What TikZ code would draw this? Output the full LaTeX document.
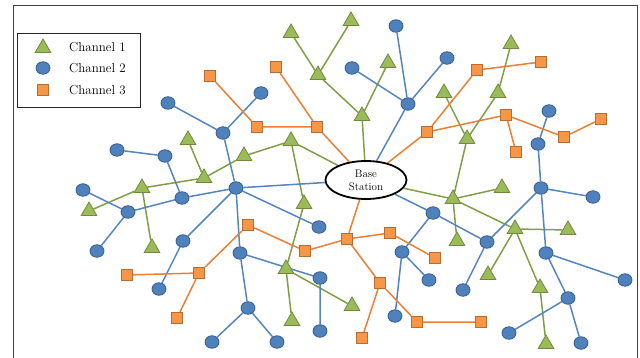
\documentclass[tikz,border=0pt]{standalone}
\usetikzlibrary{shapes.geometric,backgrounds}
\definecolor{grfill}{HTML}{9BBB59}
\definecolor{grdraw}{HTML}{71893F}
\definecolor{grline}{HTML}{7F9F46}
\definecolor{blfill}{HTML}{4F81BD}
\definecolor{bldraw}{HTML}{385D8A}
\definecolor{blline}{HTML}{5585C0}
\definecolor{orfill}{HTML}{F79646}
\definecolor{ordraw}{HTML}{B66D31}
\definecolor{orline}{HTML}{EC7E35}
\tikzset{
	chone/.style = {regular polygon, regular polygon sides=3, fill=grfill, draw=grdraw, line width=0.8pt, inner sep=0pt, minimum size=18pt},
	chtwo/.style = {ellipse, fill=blfill, draw=bldraw, line width=0.8pt, inner sep=0pt, minimum width=14pt, minimum height=12.5pt},
	chthree/.style = {rectangle, fill=orfill, draw=ordraw, line width=0.8pt, inner sep=0pt, minimum size=11.5pt},
	linkone/.style = {grline, line width=1.5pt},
	linktwo/.style = {blline, line width=1.5pt},
	linkthree/.style = {orline, line width=1.5pt},
	station/.style = {ellipse, draw=black, fill=white, line width=1.8pt, align=center, inner sep=0pt, minimum width=81pt, minimum height=38pt, font=\fontsize{11}{13}\selectfont},
	legendtext/.style = {anchor=west, inner sep=0pt, font=\fontsize{13}{15}\selectfont}
}

\begin{document}
\begin{tikzpicture}[x=1pt, y=-1pt]
\useasboundingbox (0,0) rectangle (640,358);
\draw[black!75, line width=1pt] (13,358) -- (13,6) -- (637,6) -- (637,358);

\node [station] (bs) at (366,180) {Base\\Station};

\node [chone] (t1) at (291,141) {};
\node [chone] (t2) at (244,156) {};
\node [chone] (t3) at (204,178) {};
\node [chone] (t4) at (188,140) {};
\node [chone] (t5) at (142,188) {};
\node [chone] (t6) at (89,211) {};
\node [chone] (t7) at (152,248) {};
\node [chone] (t8) at (304,204) {};
\node [chone] (t9) at (286,269) {};
\node [chone] (t10) at (292,321) {};
\node [chone] (t11) at (352,306) {};
\node [chone] (t12) at (362,116) {};
\node [chone] (t13) at (318,75) {};
\node [chone] (t14) at (291,33) {};
\node [chone] (t15) at (351,21) {};
\node [chone] (t16) at (388,63) {};
\node [chone] (t17) at (453,199) {};
\node [chone] (t18) at (502,188) {};
\node [chone] (t19) at (457,241) {};
\node [chone] (t20) at (467,139) {};
\node [chone] (t21) at (444,93) {};
\node [chone] (t22) at (498,93) {};
\node [chone] (t23) at (511,44) {};
\node [chone] (t24) at (515,229) {};
\node [chone] (t25) at (568,230) {};
\node [chone] (t26) at (488,275) {};
\node [chone] (t27) at (540,288) {};
\node [chone] (t28) at (546,344) {};

\node [chtwo] (c1) at (236,188) {};
\node [chtwo] (c2) at (223,133) {};
\node [chtwo] (c3) at (168,103) {};
\node [chtwo] (c4) at (261,93) {};
\node [chtwo] (c5) at (182,198) {};
\node [chtwo] (c6) at (165,156) {};
\node [chtwo] (c7) at (117,150) {};
\node [chtwo] (c8) at (128,212) {};
\node [chtwo] (c9) at (83,190) {};
\node [chtwo] (c10) at (97,251) {};
\node [chtwo] (c11) at (183,241) {};
\node [chtwo] (c12) at (159,289) {};
\node [chtwo] (c13) at (240,253) {};
\node [chtwo] (c14) at (248,308) {};
\node [chtwo] (c15) at (212,342) {};
\node [chtwo] (c16) at (277,342) {};
\node [chtwo] (c17) at (319,227) {};
\node [chtwo] (c18) at (320,278) {};
\node [chtwo] (c19) at (320,331) {};
\node [chtwo] (c20) at (408,104) {};
\node [chtwo] (c21) at (396,26) {};
\node [chtwo] (c22) at (352,68) {};
\node [chtwo] (c23) at (447,58) {};
\node [chtwo] (c24) at (433,213) {};
\node [chtwo] (c25) at (402,252) {};
\node [chtwo] (c26) at (429,280) {};
\node [chtwo] (c27) at (395,316) {};
\node [chtwo] (c28) at (487,242) {};
\node [chtwo] (c29) at (463,290) {};
\node [chtwo] (c30) at (541,188) {};
\node [chtwo] (c31) at (538,144) {};
\node [chtwo] (c32) at (549,111) {};
\node [chtwo] (c33) at (593,197) {};
\node [chtwo] (c34) at (546,253) {};
\node [chtwo] (c35) at (625,280) {};
\node [chtwo] (c36) at (568,298) {};
\node [chtwo] (c37) at (509,333) {};
\node [chtwo] (c38) at (581,343) {};

\node [chthree] (s1) at (317,127) {};
\node [chthree] (s2) at (276,67) {};
\node [chthree] (s3) at (257,127) {};
\node [chthree] (s4) at (210,76) {};
\node [chthree] (s5) at (427,132) {};
\node [chthree] (s6) at (477,70) {};
\node [chthree] (s7) at (541,62) {};
\node [chthree] (s8) at (506,115) {};
\node [chthree] (s9) at (516,152) {};
\node [chthree] (s10) at (564,137) {};
\node [chthree] (s11) at (601,119) {};
\node [chthree] (s12) at (347,239) {};
\node [chthree] (s13) at (305,251) {};
\node [chthree] (s14) at (248,225) {};
\node [chthree] (s15) at (199,273) {};
\node [chthree] (s16) at (127,275) {};
\node [chthree] (s17) at (177,318) {};
\node [chthree] (s18) at (390,233) {};
\node [chthree] (s19) at (435,258) {};
\node [chthree] (s20) at (380,283) {};
\node [chthree] (s21) at (362,338) {};
\node [chthree] (s22) at (417,322) {};
\node [chthree] (s23) at (481,322) {};

\begin{pgfonlayer}{background}
\draw [linkone] (bs) -- (t1) (t1) -- (t2) (t2) -- (t3) (t3) -- (t4) (t3) -- (t5) (t5) -- (t6) (t5) -- (t7)
	(t1) -- (t8) (t8) -- (t9) (t9) -- (t10) (t9) -- (t11)
	(bs) -- (t12) (t12) -- (t13) (t13) -- (t14) (t13) -- (t15) (t12) -- (t16)
	(bs) -- (t17) (t17) -- (t18) (t17) -- (t19) (t17) -- (t20) (t20) -- (t21) (t20) -- (t22) (t22) -- (t23)
	(t17) -- (t24) (t24) -- (t25) (t24) -- (t26) (t24) -- (t27) (t27) -- (t28);
\draw [linktwo] (bs) -- (c1) (c1) -- (c2) (c2) -- (c3) (c2) -- (c4)
	(c1) -- (c5) (c5) -- (c6) (c6) -- (c7) (c5) -- (c8) (c8) -- (c9) (c8) -- (c10)
	(c1) -- (c11) (c11) -- (c12) (c1) -- (c13) (c13) -- (c14) (c14) -- (c15) (c14) -- (c16)
	(c1) -- (c17) (c13) -- (c18) (c18) -- (c19)
	(bs) -- (c20) (c20) -- (c21) (c20) -- (c22) (c20) -- (c23)
	(bs) -- (c24) (c24) -- (c25) (c25) -- (c26) (c25) -- (c27) (c24) -- (c28) (c28) -- (c29) (c28) -- (c30)
	(c30) -- (c31) (c31) -- (c32) (c30) -- (c33) (c30) -- (c34) (c34) -- (c35) (c34) -- (c36) (c36) -- (c37) (c36) -- (c38);
\draw [linkthree] (bs) -- (s1) (s1) -- (s2) (s1) -- (s3) (s3) -- (s4)
	(bs) -- (s5) (s5) -- (s6) (s6) -- (s7) (s5) -- (s8) (s8) -- (s9) (s8) -- (s10) (s10) -- (s11)
	(bs) -- (s12) (s12) -- (s13) (s13) -- (s14) (s14) -- (s15) (s15) -- (s16) (s15) -- (s17)
	(s12) -- (s18) (s18) -- (s19) (s12) -- (s20) (s20) -- (s21) (s20) -- (s22) (s22) -- (s23);
\end{pgfonlayer}

\node [draw=black!85, line width=1pt, fill=white, minimum width=123pt, minimum height=74pt, inner sep=0pt] (legend) at (78.5,71) {};
\node [chone] (lgone) at (43,48) {};
\node [chtwo] (lgtwo) at (43,68) {};
\node [chthree] (lgthree) at (43,90) {};
\node [legendtext] (txone) at (69,47) {Channel 1};
\node [legendtext] (txtwo) at (69,68) {Channel 2};
\node [legendtext] (txthree) at (69,90) {Channel 3};
\end{tikzpicture}
\end{document}
